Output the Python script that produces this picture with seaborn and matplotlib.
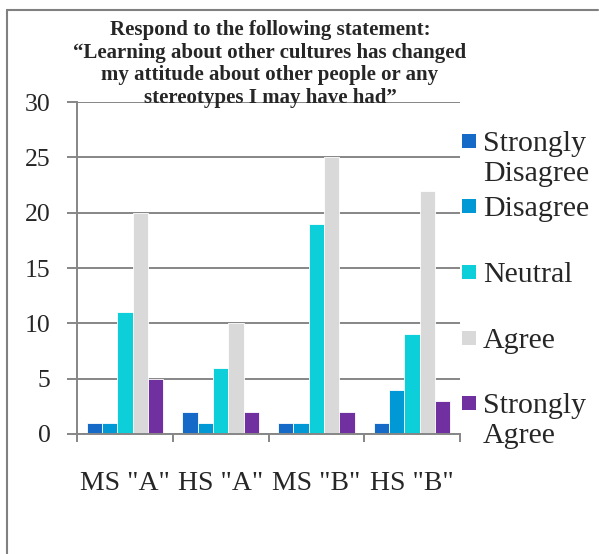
import matplotlib
matplotlib.use("Agg")
import matplotlib.pyplot as plt
import seaborn as sns
import pandas as pd
from matplotlib.patches import Rectangle
from matplotlib.lines import Line2D

categories = ['MS "A"', 'HS "A"', 'MS "B"', 'HS "B"']
responses = ["Strongly Disagree", "Disagree", "Neutral", "Agree", "Strongly Agree"]
legend_labels = ["Strongly\nDisagree", "Disagree", "Neutral", "Agree", "Strongly\nAgree"]
strongly_disagree = [1, 2, 1, 1]
disagree = [1, 1, 1, 4]
neutral = [11, 6, 19, 9]
agree = [20, 10, 25, 22]
strongly_agree = [5, 2, 2, 3]
yticks = [0, 5, 10, 15, 20, 25, 30]
title = ("Respond to the following statement:\n"
         "\u201cLearning about other cultures has changed\n"
         "my attitude about other people or any\n"
         "stereotypes I may have had\u201d")

colors = ["#1569C7", "#0099D6", "#0CCFD9", "#D9D9D9", "#7030A0"]

series = [strongly_disagree, disagree, neutral, agree, strongly_agree]
rows = []
for resp, vals in zip(responses, series):
    for cat, v in zip(categories, vals):
        rows.append({"School": cat, "Response": resp, "Count": v})
df = pd.DataFrame(rows)

sns.set_theme(style="white")
plt.rcParams["font.family"] = ["Liberation Serif", "DejaVu Serif"]

W, H = 599, 554
fig = plt.figure(figsize=(W / 100, H / 100), dpi=100)
ax = fig.add_axes([77 / W, 1 - 434 / H, (460 - 77) / W, (434 - 102) / H])

sns.barplot(data=df, x="School", y="Count", hue="Response", order=categories,
            hue_order=responses, palette=colors, width=0.8, ax=ax,
            edgecolor="white", linewidth=0.6, legend=False, saturation=1)

grid_c = "#868686"
ax.set_ylim(0, 30)
ax.set_xlim(-0.5, 3.5)
ax.set_yticks(yticks)
ax.set_yticklabels([str(t) for t in yticks], fontsize=18.5)
ax.yaxis.grid(True, color=grid_c, linewidth=1.4)
ax.xaxis.grid(False)
ax.set_axisbelow(True)
for s in ["top", "right"]:
    ax.spines[s].set_visible(False)
for s in ["left", "bottom"]:
    ax.spines[s].set_color(grid_c)
    ax.spines[s].set_linewidth(1.4)
ax.tick_params(axis="y", direction="out", length=7, width=1.4, color=grid_c, pad=12, left=True)
ax.set_xticks(range(len(categories)))
ax.set_xticklabels(categories, fontsize=20)
ax.set_xticks([-0.5, 0.5, 1.5, 2.5, 3.5], minor=True)
ax.tick_params(axis="x", which="major", length=0, pad=27)
ax.tick_params(axis="x", which="minor", direction="out", length=6, width=1.4, color=grid_c, bottom=True)
ax.set_xlabel("")
ax.set_ylabel("")

fig.text(270 / W, 1 - 20 / H, title, ha="center", va="top", fontsize=15,
         fontweight="bold", linespacing=1.17)

# legend
for i, (lab, c) in enumerate(zip(legend_labels, colors)):
    yc = 141 + i * 65.5
    fig.patches.append(Rectangle((462 / W, 1 - (yc + 7) / H), 14 / W, 14 / H,
                                 transform=fig.transFigure, facecolor=c,
                                 edgecolor="none"))
    fig.text(483 / W, 1 - (yc - 10) / H, lab, ha="left", va="top",
             fontsize=21.5, linespacing=1.22)

# figure border
fig.add_artist(Line2D([6.5 / W, 6.5 / W], [0, 1 - 10 / H], transform=fig.transFigure,
                      color="#808080", linewidth=1.5))
fig.add_artist(Line2D([6.5 / W, 598 / W], [1 - 10 / H, 1 - 10 / H], transform=fig.transFigure,
                      color="#808080", linewidth=1.5))

fig.savefig("out.png", dpi=100)
